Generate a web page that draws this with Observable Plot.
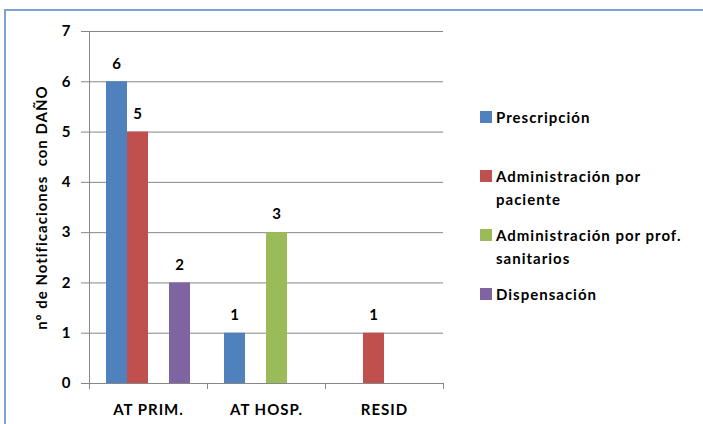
<!DOCTYPE html>
<html>
<head>
<meta charset="utf-8">
<script src="https://cdn.jsdelivr.net/npm/d3@7"></script>
<script src="https://cdn.jsdelivr.net/npm/@observablehq/plot@0.6"></script>
<style>
  html, body { margin: 0; padding: 0; background: #fff; }
  #wrap { position: relative; width: 703px; height: 424px; overflow: hidden; background: #fff;
          font-family: Lato, "Open Sans", sans-serif; font-weight: bold; }
  #border { position: absolute; left: 4px; top: 9px; width: 720px; height: 440px;
            border-top: 2px solid #7da3d6; border-left: 2px solid #7da3d6; box-sizing: border-box; }
  #chart { position: absolute; left: 0; top: 0; }
  #chart svg text { letter-spacing: 1px; }
  #legend { position: absolute; left: 480px; top: 106px; width: 222px; }
  .item { display: flex; align-items: flex-start; height: 59px; }
  .sw { width: 12px; height: 12px; margin-top: 5px; margin-right: 4px; flex: none; }
  .lbl { font-size: 15px; line-height: 23px; letter-spacing: 1px; color: #000; width: 203px; }
</style>
</head>
<body>
<div id="wrap">
  <div id="border"></div>
  <div id="chart"></div>
  <div id="legend"></div>
</div>
<script>
const categories = ["AT PRIM.", "AT HOSP.", "RESID"];
const seriesNames = ["Prescripción", "Administración por paciente", "Administración por prof. sanitarios", "Dispensación"];
const seriesColors = ["#4f81bd", "#c0504d", "#9bbb59", "#8064a2"];
const prescripcion = [6, 1, 0];
const adminPaciente = [5, 0, 1];
const adminProf = [0, 3, 0];
const dispensacion = [2, 0, 0];
const yTicks = [0, 1, 2, 3, 4, 5, 6, 7];
const yLabel = "nº de Notificaciones  con DAÑO";

const seriesValues = [prescripcion, adminPaciente, adminProf, dispensacion];
const data = [];
categories.forEach((c, i) => {
  seriesNames.forEach((s, j) => data.push({cat: c, series: s, value: seriesValues[j][i]}));
});

const grey = "#868686";
const plot = Plot.plot({
  width: 703,
  height: 424,
  marginLeft: 88,
  marginRight: 260,
  marginTop: 31,
  marginBottom: 41,
  style: {fontFamily: "Lato, 'Open Sans', sans-serif", fontWeight: "bold", fontSize: "15px", color: "#000", background: "transparent", overflow: "visible"},
  fx: {domain: categories, paddingInner: 0, paddingOuter: 0, label: null, axis: null},
  x: {domain: seriesNames, paddingInner: 0, paddingOuter: 0.72, axis: null},
  y: {domain: [0, 7], axis: null},
  color: {domain: seriesNames, range: seriesColors},
  marks: [
    Plot.gridY(yTicks, {stroke: grey, strokeOpacity: 1}),
    Plot.frame({anchor: "left", insetTop: 352, insetBottom: -5, stroke: grey}),
    Plot.frame({anchor: "right", insetTop: 352, insetBottom: -5, stroke: grey}),
    Plot.frame({anchor: "left", fx: () => categories[0], insetBottom: -5, stroke: grey}),
    Plot.barY(data, {fx: "cat", x: "series", y: "value", fill: "series"}),
    Plot.text(data.filter(d => d.value > 0), {fx: "cat", x: "series", y: "value", text: d => String(d.value), dy: -18, fontSize: 15, fontWeight: "bold", fill: "#000"}),
    Plot.axisY({ticks: yTicks, tickFormat: d3.format("d"), tickSize: 8, tickPadding: 10, stroke: grey, fontSize: 15, label: yLabel, labelAnchor: "center", labelArrow: "none", labelOffset: 53}),
    Plot.axisFx({anchor: "bottom", tickSize: 0, tickPadding: 21, label: null, fontSize: 15})
  ]
});
document.getElementById("chart").appendChild(plot);

const legend = document.getElementById("legend");
seriesNames.forEach((s, j) => {
  const item = document.createElement("div");
  item.className = "item";
  const sw = document.createElement("div");
  sw.className = "sw";
  sw.style.background = seriesColors[j];
  const lbl = document.createElement("div");
  lbl.className = "lbl";
  lbl.textContent = s;
  item.appendChild(sw);
  item.appendChild(lbl);
  legend.appendChild(item);
});
</script>
</body>
</html>
